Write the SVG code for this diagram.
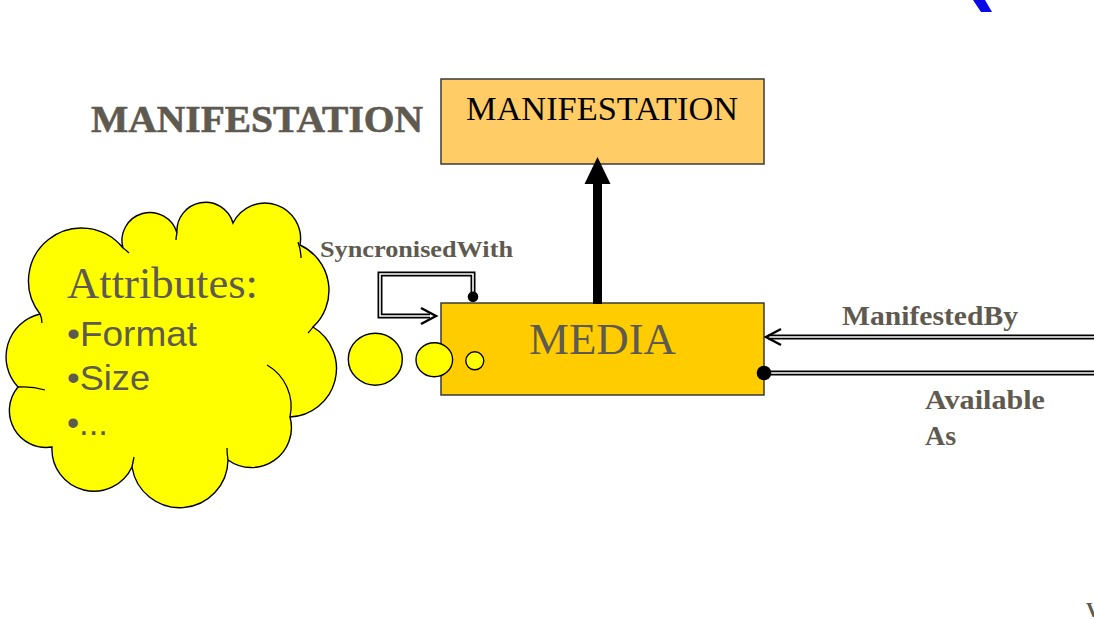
<svg xmlns="http://www.w3.org/2000/svg" width="1094" height="619" viewBox="0 0 1094 619">
  <style>
    .serif { font-family: "Liberation Serif", "Times New Roman", serif; }
    .sans { font-family: "Liberation Sans", Arial, sans-serif; }
    .grey { fill: #5f5a50; }
    .lbl { font-weight: bold; fill: #5f5a50; }
    .box { stroke: #3a3a3a; stroke-width: 1.5; }
    .bubble { fill: #ffff00; stroke: #000; stroke-width: 1.4; }
    .dbl-outer { fill: none; stroke: #000; stroke-width: 5; }
    .dbl-inner { fill: none; stroke: #fff; stroke-width: 1.6; }
    .chevron { fill: none; stroke: #000; stroke-width: 2.4; stroke-linejoin: miter; }
  </style>
  <defs>
    <path id="sync-path" d="M473,297 V274 H380 V316 H430"/>
    <path id="manifested-path" d="M768,337 H1094"/>
    <path id="available-path" d="M764,373 H1094"/>
  </defs>

  <rect width="1094" height="619" fill="#fff"/>

  <!-- stray fragments at the slide edges -->
  <path d="M973,0 L985,0 L992,12 L981,12 Z" fill="#0a0ae6"/>
  <text x="1086" y="617" class="serif" font-size="20" font-weight="bold" fill="#5f5a50">V</text>

  <!-- heading -->
  <g id="node-heading">
    <text x="91" y="132" class="serif lbl" font-size="38" textLength="332" lengthAdjust="spacingAndGlyphs" stroke="#5f5a50" stroke-width="0.6">MANIFESTATION</text>
  </g>

  <!-- attribute cloud -->
  <g id="node-attributes">
    <path class="bubble" d="M40,314 A52,52 0 0 1 123,248 A28,28 0 0 1 177,233 A28.6,28.6 0 0 1 233,223 A35.6,35.6 0 0 1 300,245 A50,50 0 0 1 313,327 A48.5,48.5 0 0 1 290,417 A40,40 0 0 1 228,460 A48.3,48.3 0 0 1 132,467 A42,42 0 0 1 52,447 A36.8,36.8 0 0 1 18,387 A44,44 0 0 1 40,314 Z"/>
    <g fill="none" stroke="#000" stroke-width="1.3">
      <path d="M267,365 A48,48 0 0 1 290,417"/>
      <path d="M18,387 Q32,386 45,390"/>
      <path d="M298,242 Q301,250 301,258"/>
      <path d="M228,460 Q227,454 227,448"/>
      <path d="M177,233 Q176,237 176,240"/>
      <path d="M123,248 Q126,250 129,253"/>
      <path d="M313,327 Q311,330 308,333"/>
      <path d="M132,467 Q133,462 134,457"/>
      <path d="M40,314 Q42,318 42,323"/>
    </g>
    <text x="67" y="298" class="serif grey" font-size="44.5" textLength="191" lengthAdjust="spacingAndGlyphs">Attributes:</text>
    <text x="67" y="346" class="sans grey" font-size="35" textLength="130" lengthAdjust="spacingAndGlyphs">•Format</text>
    <text x="67" y="390" class="sans grey" font-size="35" textLength="83" lengthAdjust="spacingAndGlyphs">•Size</text>
    <text x="67" y="435" class="sans grey" font-size="35" textLength="41" lengthAdjust="spacingAndGlyphs">•...</text>
  </g>

  <!-- upper entity -->
  <g id="node-manifestation">
    <rect class="box" x="441" y="79" width="323" height="85" fill="#ffcc66"/>
    <text x="466" y="120" class="serif" font-size="34" fill="#000" textLength="272" lengthAdjust="spacingAndGlyphs">MANIFESTATION</text>
  </g>

  <!-- media entity -->
  <g id="node-media">
    <rect class="box" x="441" y="303" width="323" height="92" fill="#ffcc00"/>
    <text x="529" y="354" class="serif grey" font-size="45" textLength="147" lengthAdjust="spacingAndGlyphs">MEDIA</text>
  </g>

  <!-- thought bubbles trailing from the cloud -->
  <g id="node-bubbles">
    <ellipse class="bubble" cx="375.3" cy="359.2" rx="27" ry="26"/>
    <ellipse class="bubble" cx="434.3" cy="359.7" rx="18.3" ry="17"/>
    <circle class="bubble" cx="474.8" cy="360.8" r="9"/>
  </g>

  <!-- relationships -->
  <g id="connectors">
    <!-- specialisation arrow -->
    <rect x="593" y="182" width="9" height="122" fill="#000"/>
    <polygon points="597.5,157 584.5,184 610.5,184" fill="#000"/>

    <!-- SyncronisedWith self-link -->
    <use href="#sync-path" class="dbl-outer"/>
    <use href="#sync-path" class="dbl-inner"/>
    <circle cx="473" cy="296.7" r="5.3" fill="#000"/>
    <polyline class="chevron" points="421,308 436,316 421,324"/>

    <!-- ManifestedBy -->
    <use href="#manifested-path" class="dbl-outer"/>
    <use href="#manifested-path" class="dbl-inner"/>
    <polyline class="chevron" points="781,329 766,337 781,345"/>

    <!-- Available As -->
    <use href="#available-path" class="dbl-outer"/>
    <use href="#available-path" class="dbl-inner"/>
    <circle cx="764" cy="373" r="7.3" fill="#000"/>
  </g>

  <!-- connector labels -->
  <g id="connector-labels">
    <text x="320" y="257" class="serif lbl" font-size="24" textLength="193" lengthAdjust="spacingAndGlyphs">SyncronisedWith</text>
    <text x="842" y="325" class="serif lbl" font-size="28" textLength="176" lengthAdjust="spacingAndGlyphs">ManifestedBy</text>
    <text x="925" y="409" class="serif lbl" font-size="28" textLength="120" lengthAdjust="spacingAndGlyphs">Available</text>
    <text x="925" y="445" class="serif lbl" font-size="28">As</text>
  </g>
</svg>
